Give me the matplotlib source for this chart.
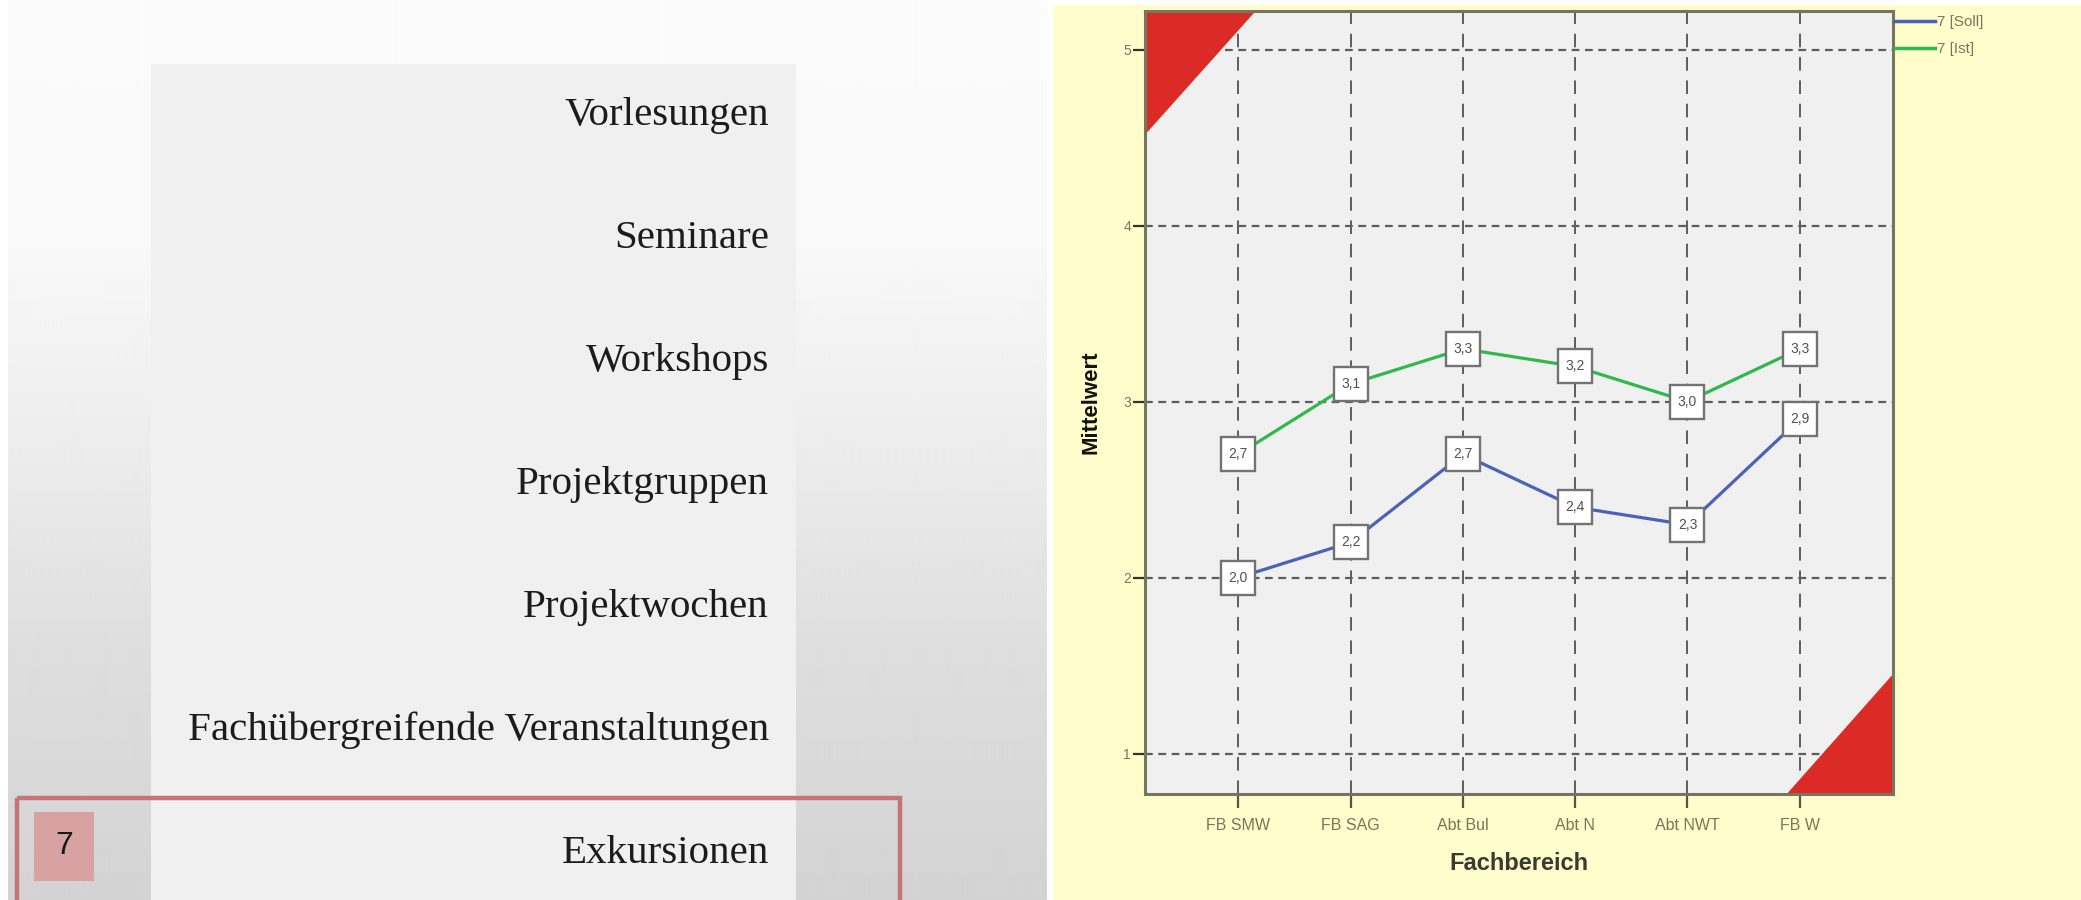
import numpy as np
import matplotlib
matplotlib.use("Agg")
import matplotlib.pyplot as plt
from matplotlib.patches import Rectangle, Polygon
from matplotlib.lines import Line2D

# ---- data -------------------------------------------------------------
formats = ["Vorlesungen", "Seminare", "Workshops", "Projektgruppen",
           "Projektwochen", "Fachübergreifende Veranstaltungen", "Exkursionen"]
selected_index = 6
selected_number = "7"

departments = ["FB SMW", "FB SAG", "Abt Bul", "Abt N", "Abt NWT", "FB W"]
soll_values = [2.0, 2.2, 2.7, 2.4, 2.3, 2.9]
ist_values = [2.7, 3.1, 3.3, 3.2, 3.0, 3.3]
series_labels = ["7 [Soll]", "7 [Ist]"]
y_ticks = [1, 2, 3, 4, 5]

W, H = 2081, 900
fig = plt.figure(figsize=(W / 100, H / 100), dpi=100)
fig.patch.set_facecolor("white")

# ---- background layer in pixel coordinates -----------------------------
bg = fig.add_axes([0, 0, 1, 1])
bg.set_xlim(0, W)
bg.set_ylim(H, 0)
bg.axis("off")

rows = np.arange(H)
shade = np.interp(rows, [0, 250, 450, 650, 900], [251, 248, 236, 222, 211]) / 255.0
bg.imshow(np.tile(shade[:, None], (1, 4)), cmap="gray", vmin=0, vmax=1,
          extent=(8, 1047, H, 0), aspect="auto", interpolation="bilinear", zorder=0)

bg.add_patch(Rectangle((1053, 5), W - 1053, H - 5, facecolor="#fffdcc",
                       edgecolor="none", zorder=1))
bg.add_patch(Rectangle((151, 64), 645, H - 64, facecolor="#f0f0f0",
                       edgecolor="none", zorder=1))

row_step = 123
first_baseline = 125
for i, name in enumerate(formats):
    bg.text(769, first_baseline + i * row_step, name, ha="right", va="baseline",
            fontsize=29.5, family="Liberation Serif", color="#1c1c1c", zorder=3)

# highlight of the selected row
sel_y = first_baseline + selected_index * row_step
bg.add_patch(Rectangle((17, sel_y - 65), 883, 150, facecolor="none",
                       edgecolor="#c47676", linewidth=3.2, zorder=4))
bg.add_patch(Rectangle((34, sel_y - 51), 60, 69, facecolor="#d9a2a2",
                       edgecolor="none", zorder=4))
bg.text(64, sel_y - 17, selected_number, ha="center", va="center",
        fontsize=23, family="Liberation Sans", color="#1a1a1a", zorder=5)

# ---- line chart -------------------------------------------------------
ax = fig.add_axes([1145 / W, 1 - 794 / H, 748 / W, 783 / H])
ax.set_facecolor("#f0f0f0")
x = np.arange(len(departments))
ax.set_xlim(-0.83, len(departments) - 1 + 0.83)
ax.set_ylim(0.77, 5.22)

for yv in y_ticks:
    ax.axhline(yv, color="#5e5e5e", linewidth=1.6, dashes=(3.5, 2.5), zorder=1)
for xv in x:
    ax.axvline(xv, color="#5e5e5e", linewidth=1.4, dashes=(7, 5), zorder=1)

red = "#dc2b26"
ax.add_patch(Polygon([(0, 1), (0.148, 1), (0, 0.842)], closed=True,
                     transform=ax.transAxes, facecolor=red, edgecolor="none", zorder=2))
ax.add_patch(Polygon([(1, 0), (1, 0.153), (0.858, 0)], closed=True,
                     transform=ax.transAxes, facecolor=red, edgecolor="none", zorder=2))

blue = "#4a62b8"
green = "#2fb84c"
for vals, col in [(soll_values, blue), (ist_values, green)]:
    ax.plot(x, vals, color=col, linewidth=2.3, marker="s", markersize=25,
            markerfacecolor="white", markeredgecolor="#727272",
            markeredgewidth=1.7, zorder=4)
    for xi, v in zip(x, vals):
        ax.text(xi, v, f"{v:.1f}".replace(".", ","), ha="center", va="center",
                fontsize=10, family="Liberation Sans", color="#505050", zorder=5)

for s in ax.spines.values():
    s.set_color("#76765e")
    s.set_linewidth(2.2)
    s.set_zorder(6)

ax.set_xticks(x)
ax.set_xticklabels(departments, fontsize=11.5, family="Liberation Sans",
                   color="#76765a")
ax.set_yticks(y_ticks)
ax.set_yticklabels([str(t) for t in y_ticks], fontsize=10,
                   family="Liberation Sans", color="#76765a")
ax.tick_params(axis="x", length=10, width=1.6, color="#555548", pad=7)
ax.tick_params(axis="y", length=9, width=1.6, color="#333330", pad=1)

ax.set_xlabel("Fachbereich", fontsize=17, fontweight="bold",
              family="Liberation Sans", color="#3a3a30", labelpad=14)
ax.set_ylabel("Mittelwert", fontsize=16, fontweight="bold",
              family="Liberation Sans", color="#111111", labelpad=16)

handles = [Line2D([], [], color=blue, linewidth=2.5),
           Line2D([], [], color=green, linewidth=2.5)]
fig.legend(handles, series_labels, loc="upper left",
           bbox_to_anchor=(1895 / W, 1 - 15 / H), frameon=False,
           prop={"family": "Liberation Sans", "size": 11},
           labelcolor="#76765a", handlelength=2.6, handletextpad=0.15,
           labelspacing=0.85, borderpad=0, borderaxespad=0)

fig.savefig("out.png", dpi=100, facecolor=fig.get_facecolor())
